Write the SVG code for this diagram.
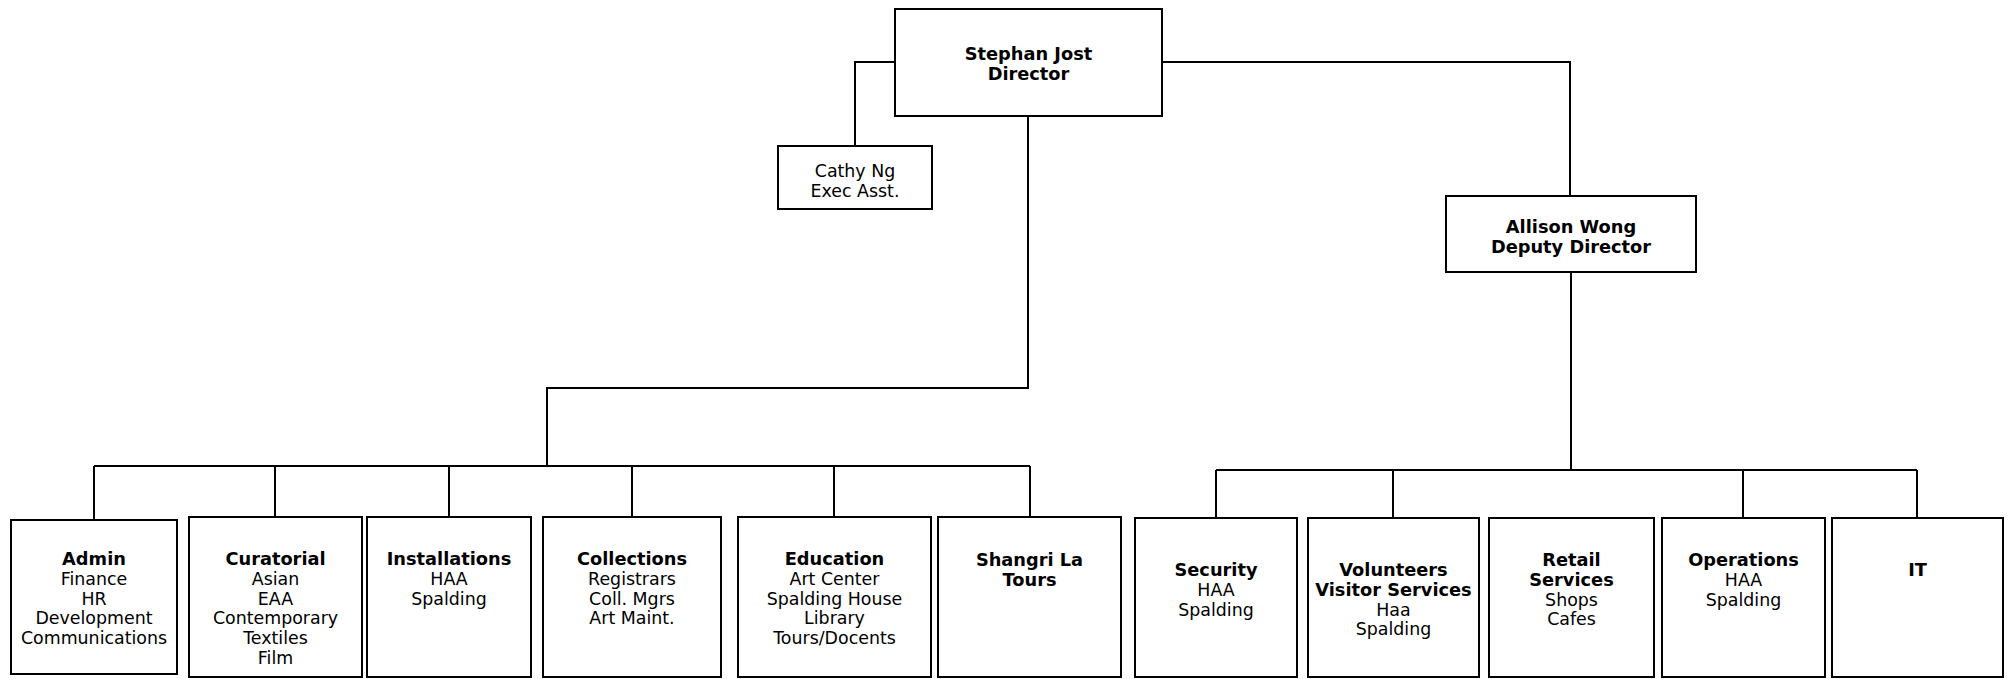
<svg xmlns="http://www.w3.org/2000/svg" width="2013" height="679" viewBox="0 0 2013 679">
<style>
.box{fill:#fff;stroke:#000;stroke-width:2}
.ln{fill:none;stroke:#000;stroke-width:2}
text{font-family:"DejaVu Sans",Verdana,sans-serif;font-size:17.4px;fill:#000;text-anchor:middle}
.b{font-weight:bold;font-size:17.8px}
</style>
<rect width="2013" height="679" fill="#fff"/>
<g id="connectors">
<path class="ln" d="M895,62 H855 V146"/>
<path class="ln" d="M1162,62 H1570 V196"/>
<path class="ln" d="M1028,116 V388 H547 V466"/>
<path class="ln" d="M94,466 H1030"/>
<path class="ln" d="M94,466 V520 M275,466 V517 M449,466 V517 M632,466 V517 M834,466 V517 M1030,466 V517"/>
<path class="ln" d="M1571,272 V470"/>
<path class="ln" d="M1216,470 H1917"/>
<path class="ln" d="M1216,470 V518 M1393,470 V518 M1743,470 V518 M1917,470 V518"/>
</g>
<g id="director">
<rect class="box" x="895" y="9" width="267" height="107"/>
<text class="b" x="1028.5" y="60">Stephan Jost</text>
<text class="b" x="1028.5" y="79.5">Director</text>
</g>
<g id="cathy">
<rect class="box" x="778" y="146" width="154" height="63"/>
<text x="855" y="177">Cathy Ng</text>
<text x="855" y="197">Exec Asst.</text>
</g>
<g id="allison">
<rect class="box" x="1446" y="196" width="250" height="76"/>
<text class="b" x="1571" y="233">Allison Wong</text>
<text class="b" x="1571" y="253">Deputy Director</text>
</g>
<g id="admin">
<rect class="box" x="11" y="520" width="166" height="154"/>
<text x="94" y="565"><tspan class="b">Admin</tspan><tspan x="94" dy="19.8">Finance</tspan><tspan x="94" dy="19.8">HR</tspan><tspan x="94" dy="19.8">Development</tspan><tspan x="94" dy="19.8">Communications</tspan></text>
</g>
<g id="curatorial">
<rect class="box" x="189" y="517" width="173" height="160"/>
<text x="275.5" y="565"><tspan class="b">Curatorial</tspan><tspan x="275.5" dy="19.8">Asian</tspan><tspan x="275.5" dy="19.8">EAA</tspan><tspan x="275.5" dy="19.8">Contemporary</tspan><tspan x="275.5" dy="19.8">Textiles</tspan><tspan x="275.5" dy="19.8">Film</tspan></text>
</g>
<g id="installations">
<rect class="box" x="367" y="517" width="164" height="160"/>
<text x="449" y="565"><tspan class="b">Installations</tspan><tspan x="449" dy="19.8">HAA</tspan><tspan x="449" dy="19.8">Spalding</tspan></text>
</g>
<g id="collections">
<rect class="box" x="543" y="517" width="178" height="160"/>
<text x="632" y="565"><tspan class="b">Collections</tspan><tspan x="632" dy="19.8">Registrars</tspan><tspan x="632" dy="19.8">Coll. Mgrs</tspan><tspan x="632" dy="19.8">Art Maint.</tspan></text>
</g>
<g id="education">
<rect class="box" x="738" y="517" width="193" height="160"/>
<text x="834.5" y="565"><tspan class="b">Education</tspan><tspan x="834.5" dy="19.8">Art Center</tspan><tspan x="834.5" dy="19.8">Spalding House</tspan><tspan x="834.5" dy="19.8">Library</tspan><tspan x="834.5" dy="19.8">Tours/Docents</tspan></text>
</g>
<g id="shangri">
<rect class="box" x="938" y="517" width="183" height="160"/>
<text class="b" x="1029.5" y="566"><tspan>Shangri La</tspan><tspan x="1029.5" dy="19.8">Tours</tspan></text>
</g>
<g id="security">
<rect class="box" x="1135" y="518" width="162" height="159"/>
<text x="1216" y="576"><tspan class="b">Security</tspan><tspan x="1216" dy="19.8">HAA</tspan><tspan x="1216" dy="19.8">Spalding</tspan></text>
</g>
<g id="volunteers">
<rect class="box" x="1308" y="518" width="171" height="159"/>
<text x="1393.5" y="576"><tspan class="b">Volunteers</tspan><tspan class="b" x="1393.5" dy="19.8">Visitor Services</tspan><tspan x="1393.5" dy="19.8">Haa</tspan><tspan x="1393.5" dy="19.8">Spalding</tspan></text>
</g>
<g id="retail">
<rect class="box" x="1489" y="518" width="165" height="159"/>
<text x="1571.5" y="566"><tspan class="b">Retail</tspan><tspan class="b" x="1571.5" dy="19.8">Services</tspan><tspan x="1571.5" dy="19.8">Shops</tspan><tspan x="1571.5" dy="19.8">Cafes</tspan></text>
</g>
<g id="operations">
<rect class="box" x="1662" y="518" width="163" height="159"/>
<text x="1743.5" y="566"><tspan class="b">Operations</tspan><tspan x="1743.5" dy="19.8">HAA</tspan><tspan x="1743.5" dy="19.8">Spalding</tspan></text>
</g>
<g id="it">
<rect class="box" x="1832" y="518" width="171" height="159"/>
<text class="b" x="1917.5" y="576">IT</text>
</g>
</svg>
